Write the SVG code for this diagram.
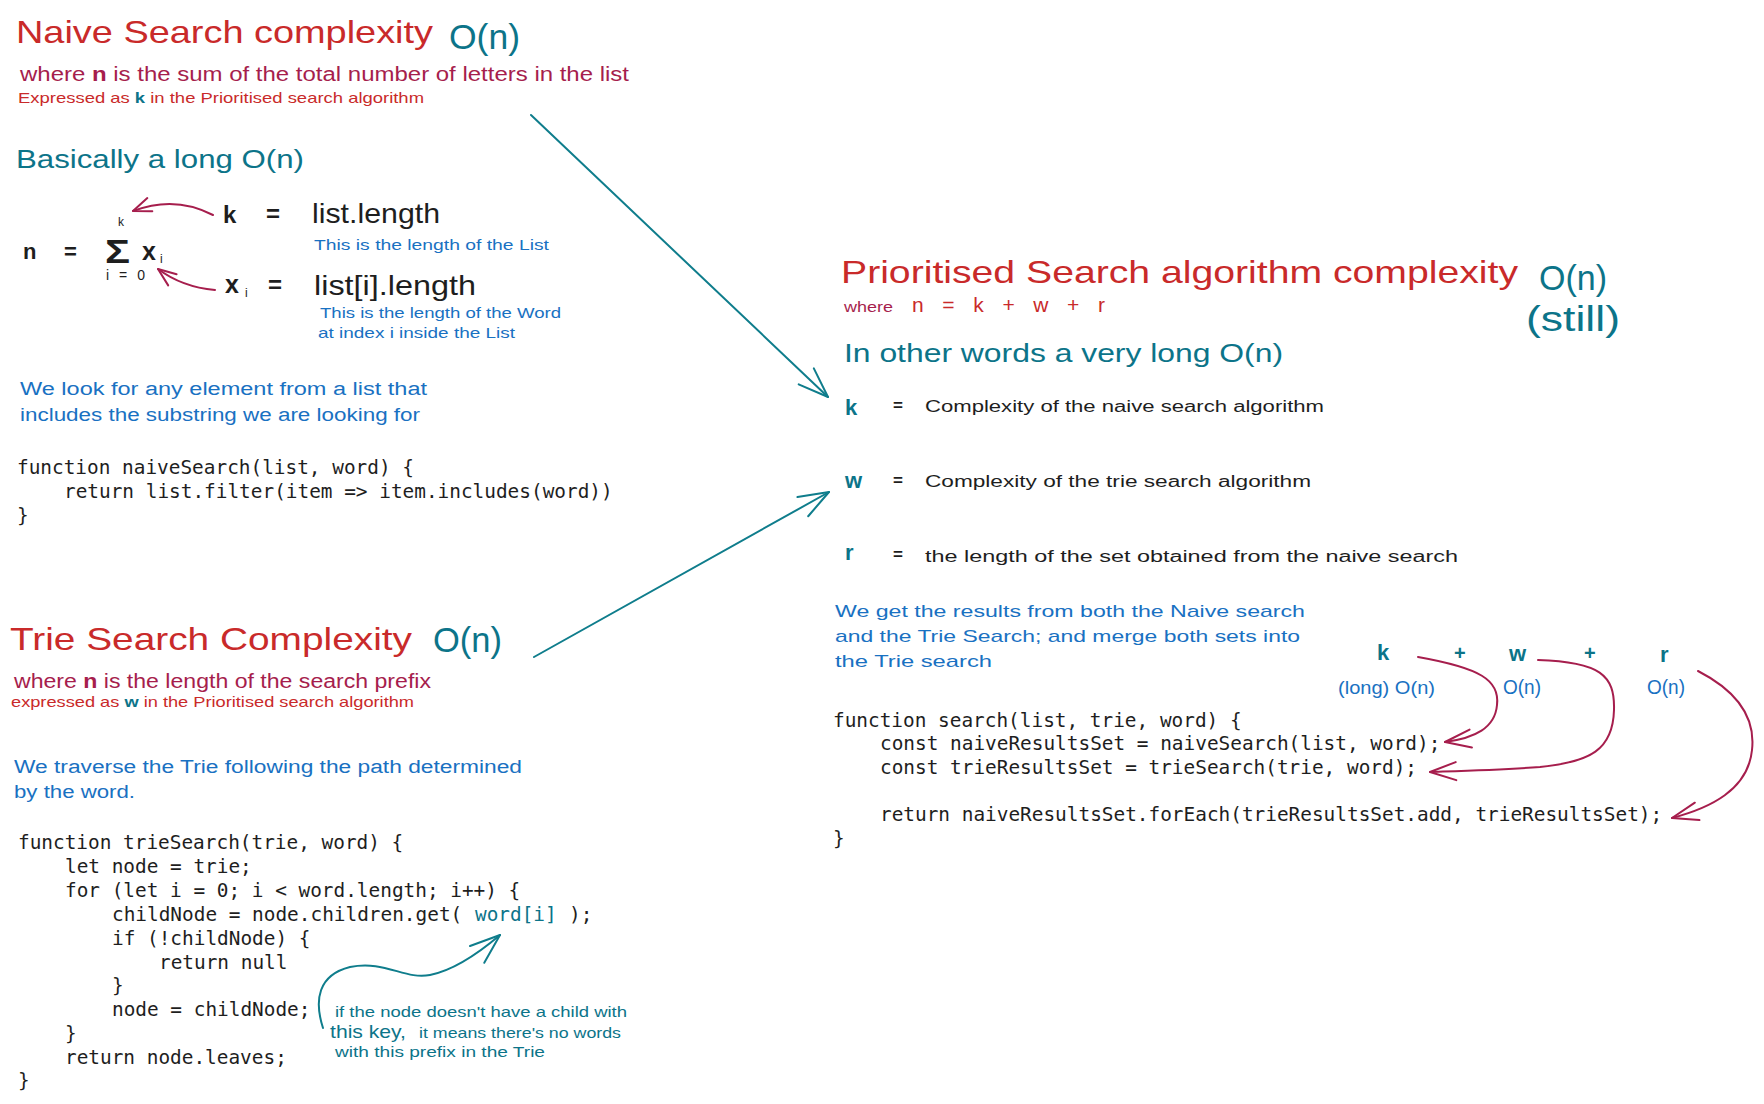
<svg xmlns="http://www.w3.org/2000/svg" width="1764" height="1104" viewBox="0 0 1764 1104">
<style>
.h{font-family:"Liberation Sans","Noto Sans",sans-serif}
.c{font-family:"DejaVu Sans Mono","Liberation Mono",monospace;font-size:19.4px;fill:#1e1e1e}
.red{fill:#c92a2a}.pur{fill:#a61e4d}.teal{fill:#0c7489}.blue{fill:#1971c2}.ink{fill:#1e1e1e}
.b{font-weight:bold}
.lt{fill:none;stroke:#0f7d8c;stroke-width:2;stroke-linecap:round}
.lr{fill:none;stroke:#a61e4d;stroke-width:2;stroke-linecap:round}
</style>
<defs>
<marker id="ah-teal" markerUnits="userSpaceOnUse" markerWidth="34" markerHeight="26" viewBox="0 0 34 26" refX="32" refY="13" orient="auto"><path d="M2,2 L32,13 L2,24" fill="none" stroke="#0f7d8c" stroke-width="2" stroke-linecap="round" stroke-linejoin="round"/></marker>
<marker id="ah-red" markerUnits="userSpaceOnUse" markerWidth="30" markerHeight="24" viewBox="0 0 30 24" refX="28" refY="12" orient="auto"><path d="M2,3 L28,12 L2,21" fill="none" stroke="#a61e4d" stroke-width="2" stroke-linecap="round" stroke-linejoin="round"/></marker>
<marker id="ah-red-sm" markerUnits="userSpaceOnUse" markerWidth="22" markerHeight="18" viewBox="0 0 22 18" refX="20" refY="9" orient="auto"><path d="M2,2 L20,9 L2,16" fill="none" stroke="#a61e4d" stroke-width="2" stroke-linecap="round" stroke-linejoin="round"/></marker>
</defs>
<rect width="1764" height="1104" fill="#ffffff"/>

<g id="naive-header" class="h">
<text x="16" y="43" font-size="32" class="red" textLength="417" lengthAdjust="spacingAndGlyphs">Naive Search complexity</text>
<text x="449" y="49" font-size="35" class="teal" textLength="71" lengthAdjust="spacingAndGlyphs">O(n)</text>
<text x="20" y="81" font-size="20" class="pur" textLength="609" lengthAdjust="spacingAndGlyphs">where <tspan class="b">n</tspan> is the sum of the total number of letters in the list</text>
<text x="18" y="103" font-size="15" class="red" textLength="406" lengthAdjust="spacingAndGlyphs">Expressed as <tspan class="teal b">k</tspan> in the Prioritised search algorithm</text>
<text x="16" y="168" font-size="26" class="teal" textLength="288" lengthAdjust="spacingAndGlyphs">Basically a long O(n)</text>
</g>

<g id="naive-formula" class="h">
<text x="23" y="259" font-size="22" class="ink b">n</text>
<text x="64" y="259" font-size="22" class="ink b">=</text>
<text x="105" y="263" font-size="34" class="ink b" textLength="25" lengthAdjust="spacingAndGlyphs">Σ</text>
<text x="118" y="226" font-size="12" class="ink">k</text>
<text x="142" y="260" font-size="25" class="ink b">x</text>
<text x="160" y="263" font-size="12" class="ink">i</text>
<text x="106" y="280" font-size="14" class="ink" textLength="39" lengthAdjust="spacing">i = 0</text>
<text x="223" y="223" font-size="24" class="ink b">k</text>
<text x="266" y="222" font-size="24" class="ink b">=</text>
<text x="312" y="223" font-size="28" class="ink" textLength="128" lengthAdjust="spacingAndGlyphs">list.length</text>
<text x="314" y="250" font-size="15" class="blue" textLength="235" lengthAdjust="spacingAndGlyphs">This is the length of the List</text>
<text x="225" y="293" font-size="25" class="ink b">x</text>
<text x="245" y="297" font-size="12" class="ink">i</text>
<text x="268" y="293" font-size="24" class="ink b">=</text>
<text x="314" y="295" font-size="28" class="ink" textLength="162" lengthAdjust="spacingAndGlyphs">list[i].length</text>
<text x="320" y="318" font-size="15" class="blue" textLength="241" lengthAdjust="spacingAndGlyphs">This is the length of the Word</text>
<text x="318" y="338" font-size="15" class="blue" textLength="197" lengthAdjust="spacingAndGlyphs">at index i inside the List</text>
</g>

<g id="naive-desc" class="h">
<text x="20" y="395" font-size="18" class="blue" textLength="407" lengthAdjust="spacingAndGlyphs">We look for any element from a list that</text>
<text x="20" y="421" font-size="18" class="blue" textLength="400" lengthAdjust="spacingAndGlyphs">includes the substring we are looking for</text>
</g>

<g id="naive-code" class="c">
<text x="17" y="474">function naiveSearch(list, word) {</text>
<text x="64" y="498">return list.filter(item =&gt; item.includes(word))</text>
<text x="17" y="522">}</text>
</g>

<g id="trie-header" class="h">
<text x="10" y="650" font-size="32" class="red" textLength="402" lengthAdjust="spacingAndGlyphs">Trie Search Complexity</text>
<text x="433" y="652" font-size="35" class="teal" textLength="69" lengthAdjust="spacingAndGlyphs">O(n)</text>
<text x="14" y="688" font-size="20" class="pur" textLength="417" lengthAdjust="spacingAndGlyphs">where <tspan class="b">n</tspan> is the length of the search prefix</text>
<text x="11" y="707" font-size="15" class="red" textLength="403" lengthAdjust="spacingAndGlyphs">expressed as <tspan class="teal b">w</tspan> in the Prioritised search algorithm</text>
</g>

<g id="trie-desc" class="h">
<text x="14" y="773" font-size="18" class="blue" textLength="508" lengthAdjust="spacingAndGlyphs">We traverse the Trie following the path determined</text>
<text x="14" y="798" font-size="18" class="blue" textLength="121" lengthAdjust="spacingAndGlyphs">by the word.</text>
</g>

<g id="trie-code" class="c">
<text x="18" y="849">function trieSearch(trie, word) {</text>
<text x="65" y="873">let node = trie;</text>
<text x="65" y="897">for (let i = 0; i &lt; word.length; i++) {</text>
<text x="112" y="921">childNode = node.children.get(<tspan x="475" class="teal">word[i]</tspan><tspan x="569">);</tspan></text>
<text x="112" y="945">if (!childNode) {</text>
<text x="159" y="969">return null</text>
<text x="112" y="992">}</text>
<text x="112" y="1016">node = childNode;</text>
<text x="65" y="1040">}</text>
<text x="65" y="1064">return node.leaves;</text>
<text x="18" y="1087">}</text>
</g>

<g id="trie-note" class="h teal">
<text x="335" y="1017" font-size="15" textLength="292" lengthAdjust="spacingAndGlyphs">if the node doesn't have a child with</text>
<text x="330" y="1038" font-size="19" textLength="76" lengthAdjust="spacingAndGlyphs">this key,</text>
<text x="419" y="1038" font-size="15" textLength="202" lengthAdjust="spacingAndGlyphs">it means there's no words</text>
<text x="335" y="1057" font-size="15" textLength="210" lengthAdjust="spacingAndGlyphs">with this prefix in the Trie</text>
</g>

<g id="prio-header" class="h">
<text x="841" y="283" font-size="32" class="red" textLength="677" lengthAdjust="spacingAndGlyphs">Prioritised Search algorithm complexity</text>
<text x="1539" y="290" font-size="35" class="teal" textLength="68" lengthAdjust="spacingAndGlyphs">O(n)</text>
<text x="1526" y="331" font-size="35" class="teal" textLength="94" lengthAdjust="spacingAndGlyphs">(still)</text>
<text x="844" y="312" font-size="15" class="pur" textLength="49" lengthAdjust="spacingAndGlyphs">where</text>
<text x="912" y="312" font-size="21" class="red" textLength="193" lengthAdjust="spacing">n = k + w + r</text>
<text x="844" y="362" font-size="25" class="teal" textLength="439" lengthAdjust="spacingAndGlyphs">In other words a very long O(n)</text>
</g>

<g id="prio-terms" class="h">
<text x="845" y="415" font-size="22" class="teal b">k</text>
<text x="893" y="411" font-size="17" class="ink b">=</text>
<text x="925" y="412" font-size="16" class="ink" textLength="399" lengthAdjust="spacingAndGlyphs">Complexity of the naive search algorithm</text>
<text x="845" y="488" font-size="22" class="teal b">w</text>
<text x="893" y="486" font-size="17" class="ink b">=</text>
<text x="925" y="487" font-size="16" class="ink" textLength="386" lengthAdjust="spacingAndGlyphs">Complexity of the trie search algorithm</text>
<text x="845" y="560" font-size="22" class="teal b">r</text>
<text x="893" y="560" font-size="17" class="ink b">=</text>
<text x="925" y="562" font-size="16" class="ink" textLength="533" lengthAdjust="spacingAndGlyphs">the length of the set obtained from the naive search</text>
</g>

<g id="prio-desc" class="h blue">
<text x="835" y="617" font-size="17" textLength="470" lengthAdjust="spacingAndGlyphs">We get the results from both the Naive search</text>
<text x="835" y="642" font-size="17" textLength="465" lengthAdjust="spacingAndGlyphs">and the Trie Search; and merge both sets into</text>
<text x="835" y="667" font-size="17" textLength="157" lengthAdjust="spacingAndGlyphs">the Trie search</text>
</g>

<g id="prio-sum" class="h">
<text x="1377" y="660" font-size="22" class="teal b">k</text>
<text x="1454" y="660" font-size="20" class="teal b">+</text>
<text x="1509" y="661" font-size="22" class="teal b">w</text>
<text x="1584" y="660" font-size="20" class="teal b">+</text>
<text x="1660" y="662" font-size="22" class="teal b">r</text>
<text x="1338" y="694" font-size="19" class="blue" textLength="97" lengthAdjust="spacingAndGlyphs">(long) O(n)</text>
<text x="1503" y="694" font-size="20" class="blue" textLength="38" lengthAdjust="spacingAndGlyphs">O(n)</text>
<text x="1647" y="694" font-size="20" class="blue" textLength="38" lengthAdjust="spacingAndGlyphs">O(n)</text>
</g>

<g id="prio-code" class="c">
<text x="833" y="727">function search(list, trie, word) {</text>
<text x="880" y="750">const naiveResultsSet = naiveSearch(list, word);</text>
<text x="880" y="774">const trieResultsSet = trieSearch(trie, word);</text>
<text x="880" y="821">return naiveResultsSet.forEach(trieResultsSet.add, trieResultsSet);</text>
<text x="833" y="845">}</text>
</g>

<g id="connectors">
<path class="lt" d="M531,115 L828,397" marker-end="url(#ah-teal)"/>
<path class="lt" d="M534,657 L829,492" marker-end="url(#ah-teal)"/>
<path class="lt" d="M323,1028 C314,1000 318,975 350,967 C385,960 405,980 430,975 C455,970 480,952 500,935" marker-end="url(#ah-teal)"/>
<path class="lr" d="M213,215 Q175,195 133,211" marker-end="url(#ah-red-sm)"/>
<path class="lr" d="M215,290 Q182,287 158,269" marker-end="url(#ah-red-sm)"/>
<path class="lr" d="M1418,657 C1480,668 1500,680 1497,705 C1495,728 1475,738 1445,742" marker-end="url(#ah-red)"/>
<path class="lr" d="M1538,660 C1600,662 1615,675 1614,710 C1613,750 1590,762 1540,767 C1500,770 1460,771 1430,772" marker-end="url(#ah-red)"/>
<path class="lr" d="M1698,671 C1735,690 1756,715 1752,750 C1748,790 1710,808 1672,818" marker-end="url(#ah-red)"/>
</g>
</svg>
